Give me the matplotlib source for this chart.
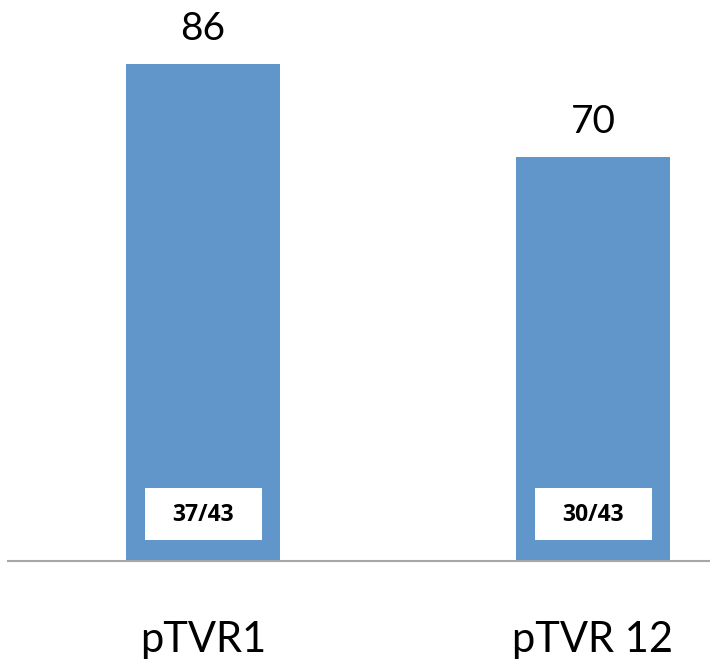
import matplotlib
matplotlib.use("Agg")
from matplotlib import pyplot as plt
from matplotlib.patches import Rectangle

categories = ["pTVR1", "pTVR 12"]
percent = [86, 70]
fractions = ["37/43", "30/43"]

plt.rcParams["font.family"] = ["Lato", "DejaVu Sans"]

fig = plt.figure(figsize=(7.1, 6.6), dpi=100)
ax = fig.add_axes([8 / 710, 99 / 660, 702 / 710, 561 / 660])

x = list(range(len(categories)))
bars = ax.bar(x, percent, width=0.397, color="#6096c9", zorder=2)

for xi, val, frac in zip(x, percent, fractions):
    ax.annotate(str(val), (xi, val), xytext=(0, 12), textcoords="offset points",
                ha="center", va="bottom", fontsize=28)
    # white count box near the bottom of each bar
    ax.add_patch(Rectangle((xi - 0.15, 3.6), 0.3, 9.0, facecolor="white",
                           edgecolor="none", zorder=3))
    ax.text(xi, 8.0, frac, ha="center", va="center", fontsize=16.5,
            fontweight="bold", family=["Open Sans", "DejaVu Sans"], zorder=4)

ax.set_xlim(-0.5, 1.3)
ax.set_ylim(0, 97.1)
ax.set_xticks(x)
ax.set_xticklabels(categories, fontsize=30)
ax.tick_params(axis="x", length=0, pad=43)
ax.set_yticks([])
for side in ["top", "right", "left"]:
    ax.spines[side].set_visible(False)
ax.spines["bottom"].set_color("#a6a6a6")
ax.spines["bottom"].set_linewidth(1.5)

fig.savefig("out.png", dpi=100)
